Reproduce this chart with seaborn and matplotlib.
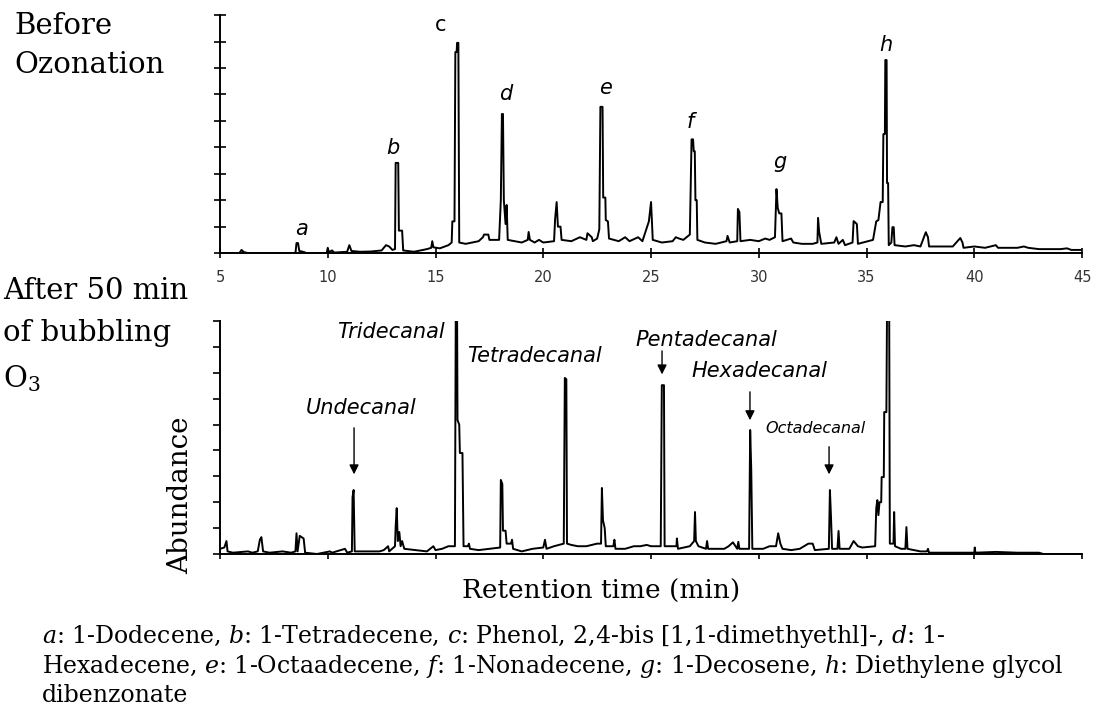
import numpy as np
import pandas as pd
import matplotlib
matplotlib.use('Agg')
import matplotlib.pyplot as plt
import seaborn as sns

# retention time (min) and abundance (arbitrary units, 0-9 scale)
top_rt = [5.0, 5.9, 6.0, 6.1, 6.3, 8.5, 8.55, 8.62, 8.68, 8.9, 9.0, 9.95, 10.0, 10.05, 10.2, 10.3,
          10.9, 11.0, 11.1, 11.5, 12.0, 12.5, 12.7, 12.85, 13.0, 13.12, 13.15, 13.27, 13.3, 13.45,
          13.5, 14.0, 14.3, 14.6, 14.8, 14.85, 14.9, 15.2, 15.6, 15.75, 15.78, 15.88, 15.92, 15.98,
          16.0, 16.06, 16.1, 16.4, 17.0, 17.2, 17.25, 17.45, 17.5, 17.95, 18.03, 18.08, 18.13, 18.17,
          18.25, 18.3, 18.35, 19.0, 19.28, 19.32, 19.38, 19.6, 19.8, 20.0, 20.5, 20.55, 20.62, 20.68,
          20.8, 20.85, 21.3, 21.7, 22.0, 22.05, 22.25, 22.3, 22.5, 22.6, 22.65, 22.75, 22.78, 22.88,
          22.9, 23.0, 23.05, 23.5, 23.8, 24.0, 24.4, 24.6, 24.9, 25.0, 25.08, 25.5, 26.0, 26.15,
          26.3, 26.5, 26.8, 26.88, 26.95, 26.98, 27.03, 27.06, 27.12, 27.15, 27.5, 28.0, 28.5, 28.55,
          28.65, 29.0, 29.03, 29.1, 29.15, 29.6, 30.0, 30.3, 30.5, 30.75, 30.82, 30.88, 30.95, 31.05,
          31.1, 31.5, 31.6, 32.0, 32.5, 32.72, 32.75, 32.8, 32.9, 33.5, 33.6, 33.7, 33.9, 34.0,
          34.35, 34.4, 34.55, 34.6, 35.3, 35.45, 35.55, 35.65, 35.75, 35.78, 35.85, 35.87, 35.93,
          35.95, 36.0, 36.03, 36.15, 36.2, 36.26, 36.3, 36.8, 37.2, 37.5, 37.75, 37.85, 37.9, 38.5,
          39.0, 39.35, 39.45, 39.5, 40.0, 40.5, 41.0, 41.1, 42.0, 42.3, 42.5, 43.0, 44.0, 44.3,
          44.5, 45.0]
top_abund = [0.0, 0.0, 0.12, 0.04, 0.0, 0.0, 0.38, 0.38, 0.08, 0.04, 0.0, 0.0, 0.2, 0.04, 0.1, 0.02,
             0.05, 0.3, 0.08, 0.05, 0.06, 0.1, 0.3, 0.25, 0.12, 0.15, 3.41, 3.41, 0.85, 0.85,
             0.1, 0.05, 0.1, 0.15, 0.2, 0.45, 0.22, 0.18, 0.3, 0.4, 1.2, 1.2, 7.6, 7.6,
             7.95, 7.95, 0.4, 0.35, 0.45, 0.6, 0.7, 0.7, 0.5, 0.5, 2.0, 5.26, 5.26, 2.0,
             1.1, 1.82, 0.5, 0.4, 0.5, 0.8, 0.5, 0.4, 0.5, 0.4, 0.45, 1.3, 1.93, 1.0,
             1.0, 0.5, 0.45, 0.6, 0.5, 0.75, 0.6, 0.45, 0.55, 0.9, 5.53, 5.53, 2.1, 2.1,
             1.25, 1.2, 0.55, 0.45, 0.6, 0.45, 0.6, 0.45, 1.2, 1.93, 0.5, 0.4, 0.45, 0.6,
             0.55, 0.5, 0.7, 4.3, 4.3, 3.85, 3.85, 2.0, 2.0, 0.5, 0.4, 0.35, 0.45, 0.65,
             0.4, 0.45, 1.67, 1.55, 0.45, 0.5, 0.45, 0.55, 0.5, 0.6, 2.42, 1.7, 1.5, 1.5,
             0.45, 0.55, 0.4, 0.35, 0.35, 0.4, 1.33, 0.8, 0.35, 0.4, 0.6, 0.35, 0.5, 0.3,
             0.4, 1.21, 1.1, 0.35, 0.5, 1.2, 1.25, 1.93, 1.93, 4.5, 4.5, 7.3, 7.3,
             2.65, 2.65, 0.3, 0.4, 0.98, 0.98, 0.3, 0.25, 0.3, 0.25, 0.79, 0.6, 0.25, 0.25,
             0.25, 0.57, 0.4, 0.2, 0.25, 0.2, 0.3, 0.2, 0.2, 0.25, 0.2, 0.15, 0.15, 0.18,
             0.12, 0.12]

bot_rt = [5.0, 5.2, 5.3, 5.35, 5.6, 6.3, 6.5, 6.75, 6.85, 6.92, 7.0, 7.3, 7.9, 8.3, 8.5, 8.55,
          8.6, 8.7, 8.88, 8.95, 9.5, 10.1, 10.2, 10.8, 10.9, 11.12, 11.15, 11.2, 11.25, 12.4,
          12.6, 12.8, 12.85, 13.12, 13.15, 13.2, 13.25, 13.32, 13.38, 13.45, 13.55, 14.6, 14.9,
          15.0, 15.3, 15.6, 15.9, 15.94, 16.0, 16.02, 16.1, 16.13, 16.25, 16.3, 16.5, 16.55,
          16.6, 17.0, 17.5, 18.0, 18.03, 18.1, 18.13, 18.25, 18.3, 18.5, 18.55, 18.6, 19.0,
          19.5, 20.0, 20.08, 20.15, 20.5, 20.95, 21.0, 21.07, 21.1, 21.3, 21.6, 22.0, 22.5,
          22.68, 22.72, 22.77, 22.85, 22.9, 23.25, 23.3, 23.35, 23.8, 24.2, 24.5, 24.8, 25.0,
          25.45, 25.5, 25.6, 25.63, 25.9, 26.18, 26.2, 26.25, 26.8, 27.0, 27.04, 27.08, 27.2,
          27.55, 27.6, 27.65, 28.4, 28.6, 28.8, 29.0, 29.05, 29.1, 29.55, 29.6, 29.65, 29.7,
          30.2, 30.5, 30.8, 30.9, 31.0, 31.1, 31.5, 31.9, 32.3, 32.5, 32.6, 33.25, 33.3, 33.35,
          33.4, 33.65, 33.7, 33.75, 34.2, 34.4, 34.6, 34.8, 35.4, 35.45, 35.5, 35.55, 35.6,
          35.68, 35.7, 35.8, 35.82, 35.92, 35.95, 36.05, 36.08, 36.25, 36.28, 36.32, 36.6, 36.8,
          36.85, 36.9, 37.5, 37.8, 37.85, 37.9, 39.0, 40.0, 40.02, 40.05, 41.0, 42.0, 43.0,
          43.2, 45.0]
bot_abund = [0.2, 0.25, 0.5, 0.1, 0.05, 0.1, 0.05, 0.1, 0.55, 0.65, 0.1, 0.05, 0.1, 0.05, 0.1, 0.8,
             0.1, 0.7, 0.6, 0.05, 0.0, 0.1, 0.05, 0.2, 0.05, 0.1, 2.2, 2.47, 0.1, 0.1,
             0.15, 0.3, 0.1, 0.3, 1.05, 1.77, 0.5, 0.85, 0.3, 0.5, 0.2, 0.1, 0.3,
             0.15, 0.2, 0.3, 0.3, 9.5, 9.5, 5.17, 5.0, 3.9, 3.9, 0.3, 0.3, 0.4,
             0.2, 0.15, 0.2, 0.25, 2.86, 2.7, 0.9, 0.9, 0.4, 0.4, 0.55, 0.2, 0.1,
             0.2, 0.25, 0.55, 0.2, 0.3, 0.4, 6.8, 6.75, 0.4, 0.35, 0.3, 0.3, 0.4,
             0.4, 2.55, 1.3, 1.0, 0.3, 0.3, 0.55, 0.2, 0.2, 0.3, 0.3, 0.35, 0.3,
             0.3, 6.52, 6.52, 0.3, 0.3, 0.3, 0.6, 0.2, 0.3, 0.5, 1.62, 0.5, 0.3,
             0.2, 0.5, 0.2, 0.2, 0.3, 0.45, 0.2, 0.47, 0.2, 0.2, 4.79, 3.24, 0.2,
             0.2, 0.3, 0.3, 0.8, 0.4, 0.2, 0.15, 0.2, 0.4, 0.4, 0.15, 0.2, 2.47, 1.43,
             0.2, 0.2, 0.89, 0.2, 0.2, 0.5, 0.3, 0.25, 0.3, 1.77, 2.08, 1.5, 2.0,
             2.0, 2.97, 2.97, 5.48, 5.48, 9.5, 9.5, 0.4, 0.4, 1.62, 0.3, 0.2, 0.2,
             1.04, 0.2, 0.1, 0.1, 0.2, 0.05, 0.05, 0.05, 0.25, 0.05, 0.08, 0.05, 0.05,
             0.0, 0.0]

x_ticks = [5, 10, 15, 20, 25, 30, 35, 40, 45]
peak_letters = ['a', 'b', 'c', 'd', 'e', 'f', 'g', 'h']
aldehydes = ['Undecanal', 'Tridecanal', 'Tetradecanal', 'Pentadecanal', 'Hexadecanal', 'Octadecanal']

footer = ['$a$: 1-Dodecene, $b$: 1-Tetradecene, $c$: Phenol, 2,4-bis [1,1-dimethyethl]-, $d$: 1-',
          'Hexadecene, $e$: 1-Octaadecene, $f$: 1-Nonadecene, $g$: 1-Decosene, $h$: Diethylene glycol',
          'dibenzonate']

sns.set_style('white')
plt.rcParams['text.color'] = 'black'
plt.rcParams['mathtext.fontset'] = 'custom'
plt.rcParams['mathtext.rm'] = 'DejaVu Serif'
plt.rcParams['mathtext.it'] = 'DejaVu Serif:italic'

fig = plt.figure(figsize=(10.94, 7.05), dpi=100)
ax1 = fig.add_axes([0.2011, 0.641, 0.788, 0.3376])
ax2 = fig.add_axes([0.2011, 0.2142, 0.788, 0.3305])

# before ozonation trace
sns.lineplot(x=top_rt, y=top_abund, ax=ax1, sort=False, estimator=None, color='black', lw=1.4)
# after ozonation trace
sns.lineplot(x=bot_rt, y=bot_abund, ax=ax2, sort=False, estimator=None, color='black', lw=1.4)

for ax in [ax1, ax2]:
    ax.set_xlim(5, 45)
    ax.set_ylim(0, 9)
    ax.set_xticks(x_ticks)
    ax.set_yticks(range(10))
    ax.set_yticklabels([])
    for s in ['top', 'right']:
        ax.spines[s].set_visible(False)
    for s in ['left', 'bottom']:
        ax.spines[s].set_color('black')
        ax.spines[s].set_linewidth(1.4)
    ax.patch.set_alpha(0)

ax1.tick_params(axis='y', direction='inout', length=9, width=1.2, color='black', left=True)
ax1.tick_params(axis='x', direction='inout', length=7, width=1.2, color='black', bottom=True,
                labelsize=10.5, labelcolor='#333333', pad=9)
ax2.tick_params(axis='y', direction='out', length=5, width=1.2, color='black', left=True)
ax2.tick_params(axis='x', direction='out', length=3.5, width=1.2, color='black', bottom=True)
ax2.set_xticklabels([])

# peak letters on the top chart
letter_pos = [(8.8, 0.91), (13.03, 3.98), (15.26, 8.64), (18.27, 6.02),
              (22.87, 6.25), (26.81, 4.96), (30.99, 3.45), (35.9, 7.88)]
for lab, (x, y) in zip(peak_letters, letter_pos):
    st = 'normal' if lab == 'c' else 'italic'
    ax1.text(x, y, lab, fontsize=15, style=st, ha='center', va='center', family='DejaVu Sans')

# aldehyde labels on the bottom chart
ax2.text(11.54, 5.64, aldehydes[0], fontsize=15, style='italic', ha='center', va='center')
ax2.text(15.44, 8.57, aldehydes[1], fontsize=15, style='italic', ha='right', va='center')
ax2.text(16.46, 7.64, aldehydes[2], fontsize=15, style='italic', ha='left', va='center')
ax2.text(27.55, 8.26, aldehydes[3], fontsize=15, style='italic', ha='center', va='center')
ax2.text(30.01, 7.07, aldehydes[4], fontsize=15, style='italic', ha='center', va='center')
ax2.text(32.61, 4.86, aldehydes[5], fontsize=11.5, style='italic', ha='center', va='center')

arrows = [(11.22, 4.98, 2.97), (25.51, 7.95, 6.83), (29.59, 6.37, 5.06), (33.26, 4.25, 2.97)]
for x, y0, y1 in arrows:
    ax2.annotate('', xy=(x, y1), xytext=(x, y0),
                 arrowprops=dict(arrowstyle='-|>', color='black', lw=1, mutation_scale=14))

# axis titles
fig.text(181 / 1094, 1 - 495 / 705, 'Abundance', family='DejaVu Serif', fontsize=20,
         rotation=90, ha='center', va='center')
fig.text(601 / 1094, 1 - 591 / 705, 'Retention time (min)', family='DejaVu Serif', fontsize=19,
         ha='center', va='center')

# side captions
fig.text(14 / 1094, 1 - 12 / 705, 'Before\nOzonation', family='DejaVu Serif', fontsize=21,
         ha='left', va='top', linespacing=1.5)
fig.text(3 / 1094, 1 - 277 / 705, 'After 50 min\nof bubbling\nO$_3$', family='DejaVu Serif',
         fontsize=21, ha='left', va='top', linespacing=1.65)

# compound key
for i, line in enumerate(footer):
    fig.text(42 / 1094, 1 - (637 + 29 * i) / 705, line, family='DejaVu Serif',
             fontsize=17, ha='left', va='center')

fig.savefig('out.png', dpi=100)
